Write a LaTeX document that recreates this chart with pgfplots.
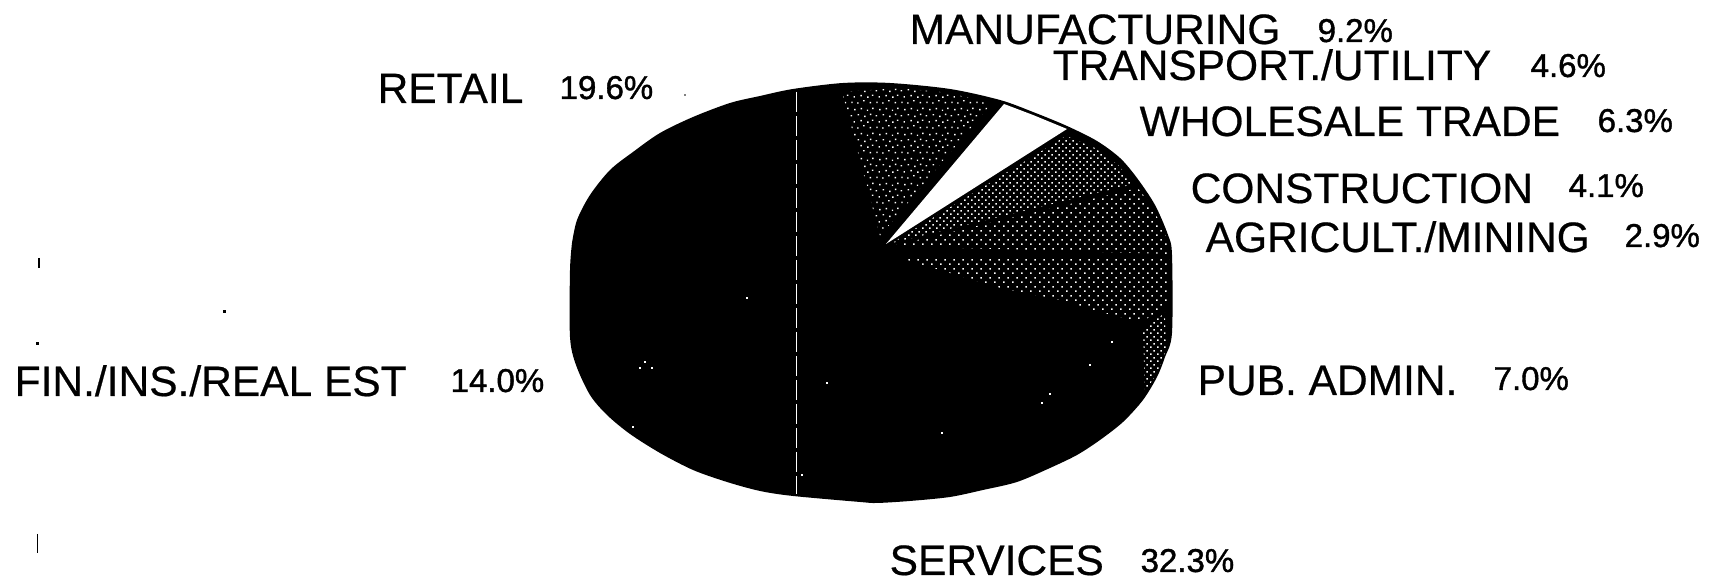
\documentclass[border=0pt]{standalone}
\usepackage{fontspec}
\setmainfont[FakeBold=0.5]{Liberation Sans}
\newfontfamily\pctfont[FakeBold=1.2]{Liberation Sans}
\usepackage{pgfplots}
\usetikzlibrary{patterns}
\pgfplotsset{compat=1.18}

% one reference pixel is 0.3pt here
\pgfdeclarepatternformonly{densedots}{\pgfqpoint{0pt}{0pt}}{\pgfqpoint{2.2pt}{2.2pt}}{\pgfqpoint{2.2pt}{2.2pt}}{
  \pgfpathrectangle{\pgfqpoint{0pt}{0pt}}{\pgfqpoint{0.5pt}{0.5pt}}
  \pgfpathrectangle{\pgfqpoint{1.1pt}{1.1pt}}{\pgfqpoint{0.5pt}{0.5pt}}
  \pgfusepath{fill}
}
\pgfdeclarepatternformonly{meddots}{\pgfqpoint{0pt}{0pt}}{\pgfqpoint{2.8pt}{2.8pt}}{\pgfqpoint{2.8pt}{2.8pt}}{
  \pgfpathrectangle{\pgfqpoint{0pt}{0pt}}{\pgfqpoint{0.5pt}{0.5pt}}
  \pgfpathrectangle{\pgfqpoint{1.4pt}{1.4pt}}{\pgfqpoint{0.5pt}{0.5pt}}
  \pgfusepath{fill}
}
\pgfdeclarepatternformonly{sparsedots}{\pgfqpoint{0pt}{0pt}}{\pgfqpoint{7.5pt}{7.5pt}}{\pgfqpoint{7.5pt}{7.5pt}}{
  \pgfpathrectangle{\pgfqpoint{0.4pt}{0.6pt}}{\pgfqpoint{0.45pt}{0.45pt}}
  \pgfpathrectangle{\pgfqpoint{2.2pt}{0.4pt}}{\pgfqpoint{0.45pt}{0.45pt}}
  \pgfpathrectangle{\pgfqpoint{4.1pt}{1.1pt}}{\pgfqpoint{0.45pt}{0.45pt}}
  \pgfpathrectangle{\pgfqpoint{6.1pt}{0.5pt}}{\pgfqpoint{0.45pt}{0.45pt}}
  \pgfpathrectangle{\pgfqpoint{1.1pt}{2.3pt}}{\pgfqpoint{0.45pt}{0.45pt}}
  \pgfpathrectangle{\pgfqpoint{3.2pt}{2.7pt}}{\pgfqpoint{0.45pt}{0.45pt}}
  \pgfpathrectangle{\pgfqpoint{5.3pt}{2.2pt}}{\pgfqpoint{0.45pt}{0.45pt}}
  \pgfpathrectangle{\pgfqpoint{6.8pt}{2.8pt}}{\pgfqpoint{0.45pt}{0.45pt}}
  \pgfpathrectangle{\pgfqpoint{0.2pt}{4.2pt}}{\pgfqpoint{0.45pt}{0.45pt}}
  \pgfpathrectangle{\pgfqpoint{2.4pt}{4.5pt}}{\pgfqpoint{0.45pt}{0.45pt}}
  \pgfpathrectangle{\pgfqpoint{4.4pt}{4.0pt}}{\pgfqpoint{0.45pt}{0.45pt}}
  \pgfpathrectangle{\pgfqpoint{6.2pt}{4.6pt}}{\pgfqpoint{0.45pt}{0.45pt}}
  \pgfpathrectangle{\pgfqpoint{1.3pt}{6.1pt}}{\pgfqpoint{0.45pt}{0.45pt}}
  \pgfpathrectangle{\pgfqpoint{3.3pt}{6.4pt}}{\pgfqpoint{0.45pt}{0.45pt}}
  \pgfpathrectangle{\pgfqpoint{5.2pt}{5.9pt}}{\pgfqpoint{0.45pt}{0.45pt}}
  \pgfpathrectangle{\pgfqpoint{6.9pt}{6.5pt}}{\pgfqpoint{0.45pt}{0.45pt}}
  \pgfusepath{fill}
}

\newcommand{\biglabel}[3]{\node[anchor=base west,inner sep=0pt,font=\fontsize{12.75}{15}\selectfont] at (axis cs:#1,#2) {#3};}
\newcommand{\pctlabel}[3]{\node[anchor=base west,inner sep=0pt,font=\pctfont\fontsize{9.9}{11}\selectfont] at (axis cs:#1,#2) {#3};}

\begin{document}
\begin{tikzpicture}
\begin{axis}[
  scale only axis,
  width=513.9pt,
  height=174pt,
  xmin=0, xmax=1713,
  ymin=0, ymax=580,
  y dir=reverse,
  axis lines=none,
  clip=false,
]

% keeps the page at the full size
\path (axis cs:0,0) rectangle (axis cs:1713,580);

% whole pie outline, black
\addplot[fill=black, draw=none, smooth, tension=0.5] coordinates {
  (572,243) (577,220) (590,195) (610,170) (633,152) (660,133) (693,117) (730,103)
  (760,96) (793,89) (843,83) (890,83) (950,89) (1000,100) (1033,112) (1067,126)
  (1097,141) (1120,158) (1137,178) (1155,205) (1168,235) (1172,255) (1172,333)
  (1165,357) (1157,377) (1143,400) (1123,422) (1100,440) (1077,455) (1050,468)
  (1017,482) (983,490) (950,497) (910,501) (877,503) (860,502) (793,496) (760,491)
  (727,482) (693,470) (660,453) (630,434) (607,415) (590,395) (576,365) (570,337)
  (570,270) (572,243)
};

% transport, white slice
\addplot[fill=white, draw=none] coordinates {
  (886,244) (1004,104) (1033,115) (1067,129) (886,244)
};

% manufacturing
\addplot[pattern=sparsedots, pattern color=white, draw=none] coordinates {
  (842,92) (900,88) (950,93) (991,104) (880,236) (842,92)
};

% wholesale
\addplot[pattern=densedots, pattern color=white, draw=none] coordinates {
  (892,243) (1066,136) (1095,148) (1118,165) (1134,184) (892,243)
};

% construction
\addplot[pattern=meddots, pattern color=white, draw=none] coordinates {
  (892,246) (1138,188) (1153,208) (1166,237) (1169,254) (892,246)
};

% agricult. and top of pub. admin.
\addplot[pattern=meddots, pattern color=white, draw=none] coordinates {
  (893,256) (1169,259) (1168,300) (1160,312) (1140,322) (1100,312) (1060,300) (1000,288) (893,256)
};

% pub. admin. wall
\addplot[pattern=densedots, pattern color=white, draw=none] coordinates {
  (1143,332) (1155,320) (1165,313) (1166,350) (1157,373) (1145,392) (1143,332)
};

% dashed line between retail and fin.
\addplot[white, line width=0.3pt, dash pattern=on 6pt off 1.2pt] coordinates {
  (796,92) (796,494)
};

% specks in the pie
\addplot[only marks, mark=square*, mark size=0.2pt, white] coordinates {
  (747,298) (645,362) (640,368) (652,368) (633,427) (827,383) (802,475)
  (1050,394) (1042,403) (942,433) (1112,342) (1090,365)
};

% specks and scan marks on the paper
\addplot[black, line width=0.4pt] coordinates {(39,258) (39,268)};
\addplot[black, line width=0.3pt] coordinates {(37,534) (37,553)};
\addplot[only marks, mark=square*, mark size=0.25pt, black] coordinates {
  (224,312) (37,344)
};
\addplot[only marks, mark=square*, mark size=0.15pt, gray] coordinates {(685,95)};

\biglabel{909}{44}{MANUFACTURING}
\pctlabel{1317}{42}{9.2\%}
\biglabel{1052}{80}{TRANSPORT./UTILITY}
\pctlabel{1530}{77}{4.6\%}
\biglabel{1139}{136}{WHOLESALE TRADE}
\pctlabel{1597}{132}{6.3\%}
\biglabel{1190}{203}{CONSTRUCTION}
\pctlabel{1568}{197}{4.1\%}
\biglabel{1205}{252}{AGRICULT./MINING}
\pctlabel{1624}{247}{2.9\%}
\biglabel{1197}{395}{PUB. ADMIN.}
\pctlabel{1493}{390}{7.0\%}
\biglabel{889}{575}{SERVICES}
\pctlabel{1140}{572}{32.3\%}
\biglabel{377}{103}{RETAIL}
\pctlabel{559}{99}{19.6\%}
\biglabel{14}{396}{FIN./INS./REAL EST}
\pctlabel{450}{392}{14.0\%}

\end{axis}
\end{tikzpicture}
\end{document}
